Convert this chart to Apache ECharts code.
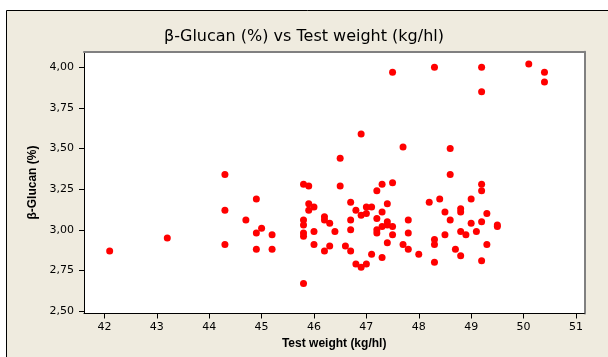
<!DOCTYPE html>
<html>
<head>
<meta charset="utf-8">
<script src="https://cdn.jsdelivr.net/npm/echarts@6/dist/echarts.min.js"></script>
<style>
  body { margin: 0; background: #fff; }
  #main { width: 608px; height: 357px; }
</style>
</head>
<body>
<div id="main"></div>
<script>
// Test weight (kg/hl) for each sample
var testWeight = [
  42.1, 43.2, 44.3, 44.3, 44.3, 44.7, 44.9, 44.9, 44.9, 45.0,
  45.2, 45.2, 45.8, 45.9, 45.9, 46.0, 45.9, 45.8, 45.8, 45.8,
  45.8, 45.8, 46.0, 46.0, 46.2, 46.2, 46.3, 46.2, 46.3, 46.4,
  46.5, 46.5, 46.6, 46.7, 46.7, 46.7, 46.7, 46.8, 46.8, 46.9,
  46.9, 46.9, 47.0, 47.0, 47.0, 47.1, 47.1, 47.2, 47.2, 47.2,
  47.2, 47.3, 47.3, 47.3, 47.3, 47.4, 47.4, 47.4, 47.4, 47.5,
  47.5, 47.5, 47.5, 47.7, 47.7, 47.8, 47.8, 47.8, 48.0, 48.2,
  48.3, 48.3, 48.3, 48.3, 48.4, 48.5, 48.5, 48.6, 48.6, 48.6,
  48.7, 48.8, 48.8, 48.8, 48.8, 48.9, 49.0, 49.0, 49.1, 49.2,
  49.2, 49.2, 49.2, 49.2, 49.2, 49.3, 49.3, 49.5, 49.5, 50.1,
  50.4, 50.4
];
// beta-glucan (%) for the same samples
var betaGlucan = [
  2.87, 2.95, 3.34, 3.12, 2.91, 3.06, 3.19, 2.98, 2.88, 3.01,
  2.97, 2.88, 3.28, 3.27, 3.16, 3.14, 3.12, 3.06, 3.03, 2.98,
  2.96, 2.67, 2.99, 2.91, 3.08, 3.06, 3.04, 2.87, 2.90, 2.99,
  3.27, 3.44, 2.90, 3.17, 3.06, 3.00, 2.87, 3.12, 2.79, 3.59,
  3.09, 2.77, 3.14, 3.10, 2.79, 3.14, 2.85, 3.24, 3.07, 3.00,
  2.98, 3.28, 3.11, 3.02, 2.83, 3.16, 3.05, 3.03, 2.92, 3.97,
  3.29, 3.02, 2.97, 3.51, 2.91, 3.06, 2.98, 2.88, 2.85, 3.17,
  4.00, 2.94, 2.91, 2.80, 3.19, 3.11, 2.97, 3.50, 3.34, 3.06,
  2.88, 3.13, 3.11, 2.99, 2.84, 2.97, 3.19, 3.04, 2.99, 4.00,
  3.85, 3.28, 3.24, 3.05, 2.81, 3.10, 2.91, 3.03, 3.02, 4.02,
  3.97, 3.91
];
var xTicks = [42, 43, 44, 45, 46, 47, 48, 49, 50, 51];
var yTicks = [2.5, 2.75, 3.0, 3.25, 3.5, 3.75, 4.0];

var points = testWeight.map(function (x, i) {
  return [x, betaGlucan[i]];
});

var chart = echarts.init(document.getElementById('main'));

var option = {
  backgroundColor: '#fff',
  animation: false,
  graphic: [
    {
      type: 'rect',
      z: -10,
      shape: { x: 6.5, y: 10.5, width: 700, height: 400 },
      style: { fill: '#EFEBDF', stroke: '#000', lineWidth: 1 }
    }
  ],
  title: {
    text: 'β-Glucan (%) vs Test weight (kg/hl)',
    left: 'center',
    top: 24,
    textStyle: {
      fontFamily: 'DejaVu Sans',
      fontSize: 16,
      fontWeight: 'normal',
      color: '#000'
    }
  },
  grid: {
    left: 84,
    right: 23.7,
    top: 51.7,
    bottom: 43.5,
    show: true,
    backgroundColor: '#fff',
    borderWidth: 0
  },
  xAxis: [
    {
      type: 'value',
      min: 41.61,
      max: 51.16,
      name: 'Test weight (kg/hl)',
      nameLocation: 'middle',
      nameGap: 24,
      nameTextStyle: {
        fontFamily: 'Liberation Sans',
        fontSize: 12,
        fontWeight: 'bold',
        color: '#000'
      },
      axisLine: { show: true, onZero: false, lineStyle: { color: '#000', width: 1 } },
      axisTick: {
        show: true,
        length: 5,
        customValues: xTicks,
        lineStyle: { color: '#000' }
      },
      axisLabel: {
        margin: 8,
        customValues: xTicks,
        fontFamily: 'DejaVu Sans',
        fontSize: 11,
        color: '#000'
      },
      splitLine: { show: false }
    },
    {
      type: 'value',
      position: 'top',
      min: 41.61,
      max: 51.16,
      axisLine: { show: true, onZero: false, lineStyle: { color: '#808080', width: 2 } },
      axisTick: { show: false },
      axisLabel: { show: false },
      splitLine: { show: false }
    }
  ],
  yAxis: [
    {
      type: 'value',
      min: 2.485,
      max: 4.096,
      name: 'β-Glucan (%)',
      nameLocation: 'middle',
      nameGap: 42,
      nameTextStyle: {
        fontFamily: 'Liberation Sans',
        fontSize: 12,
        fontWeight: 'bold',
        color: '#000'
      },
      axisLine: { show: true, onZero: false, lineStyle: { color: '#000', width: 1 } },
      axisTick: {
        show: true,
        length: 5,
        customValues: yTicks,
        lineStyle: { color: '#000' }
      },
      axisLabel: {
        margin: 10,
        customValues: yTicks,
        fontFamily: 'DejaVu Sans',
        fontSize: 11,
        color: '#000',
        formatter: function (v) {
          return v.toFixed(2).replace('.', ',');
        }
      },
      splitLine: { show: false }
    },
    {
      type: 'value',
      position: 'right',
      min: 2.485,
      max: 4.096,
      axisLine: { show: true, onZero: false, lineStyle: { color: '#808080', width: 2 } },
      axisTick: { show: false },
      axisLabel: { show: false },
      splitLine: { show: false }
    }
  ],
  series: [
    {
      type: 'scatter',
      xAxisIndex: 0,
      yAxisIndex: 0,
      symbol: 'circle',
      symbolSize: 7,
      itemStyle: { color: '#FF0000', opacity: 1 },
      data: points
    }
  ]
};

chart.setOption(option);
</script>
</body>
</html>
